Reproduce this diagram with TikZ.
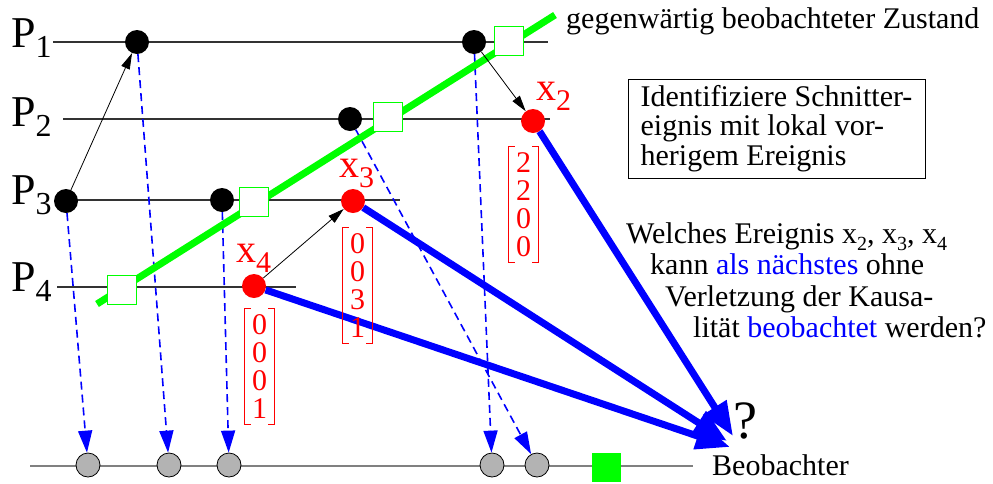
\documentclass[tikz,border=0pt]{standalone}
\usepackage{fontspec}
\setmainfont{Liberation Serif}
\usetikzlibrary{arrows.meta, positioning}
\definecolor{cutgreen}{HTML}{00FF00}
\definecolor{obsgray}{HTML}{B3B3B3}
\newcommand\lowered[3]{\raisebox{-#1pt}{\fontsize{#2}{#2}\selectfont #3}}
\newcommand\vecbrackets[1]{%
  \draw[red, line width=0.8pt]
    ([xshift=6pt]#1.north west) -- (#1.north west) -- (#1.south west) -- ([xshift=6pt]#1.south west)
    ([xshift=-6pt]#1.north east) -- (#1.north east) -- (#1.south east) -- ([xshift=-6pt]#1.south east);}
\tikzset{
  event/.style={circle, fill=black, inner sep=0pt, minimum size=24pt},
  redevent/.style={event, fill=red},
  obsdot/.style={circle, draw=black, line width=0.8pt, fill=obsgray, inner sep=0pt, minimum size=24pt},
  cutmark/.style={draw=cutgreen, line width=1.6pt, fill=white, inner sep=0pt, minimum size=29pt},
  seenmark/.style={fill=cutgreen, inner sep=0pt, minimum size=29pt},
  procline/.style={black!80, line width=1.3pt},
  obsline/.style={black!50, line width=2pt},
  cutline/.style={cutgreen, line width=7pt},
  msg/.style={-{Triangle[length=16pt,width=9pt]}, line width=0.8pt},
  observe/.style={blue, line width=1.6pt, dash pattern=on 8pt off 5pt, -{Triangle[length=22pt,width=14pt]}},
  report/.style={blue, line width=7pt, -{Triangle[length=34pt,width=26pt]}},
  proclabel/.style={anchor=base west, inner sep=0pt, font=\fontsize{44}{44}\selectfont},
  evlabel/.style={anchor=base west, inner sep=0pt, text=red, font=\fontsize{40}{40}\selectfont},
  vec/.style={text=red, align=center, inner sep=0pt, minimum width=29pt, minimum height=116pt, font=\fontsize{30}{28}\selectfont},
  txt/.style={anchor=base west, inner sep=0pt, font=\fontsize{30}{30}\selectfont},
  hintbox/.style={draw, line width=1pt, align=left, minimum width=297pt, minimum height=99pt, inner xsep=9pt, font=\fontsize{30}{29.5}\selectfont},
}

\begin{document}
\begin{tikzpicture}[x=1pt, y=-1pt]
    \useasboundingbox (0,0) rectangle (993,483);

    \draw[procline] (53,42) -- (548,42);
    \draw[procline] (63,119) -- (550,119);
    \draw[procline] (66,200) -- (400,200);
    \draw[procline] (57,287) -- (296,287);
    \draw[obsline] (30,466) -- (693,466);

    \node[proclabel] (p1) at (11,47) {P\lowered{10}{32}{1}};
    \node[proclabel] (p2) at (11,126) {P\lowered{10}{32}{2}};
    \node[proclabel] (p3) at (11,204) {P\lowered{10}{32}{3}};
    \node[proclabel] (p4) at (11,291) {P\lowered{10}{32}{4}};

    \node[event] (e11) at (137,42) {};
    \node[event] (e12) at (474,42) {};
    \node[event] (e21) at (350,119) {};
    \node[redevent] (x2) at (533,121) {};
    \node[event] (e31) at (66,201) {};
    \node[event] (e32) at (222,200) {};
    \node[redevent] (x3) at (353,201) {};
    \node[redevent] (x4) at (254,286) {};

    \node[obsdot] (o1) at (88,465) {};
    \node[obsdot] (o2) at (169,465) {};
    \node[obsdot] (o3) at (229,465) {};
    \node[obsdot] (o4) at (492,465) {};
    \node[obsdot] (o5) at (537,465) {};

    \draw[observe] (e31) -- (o1);
    \draw[observe] (e11) -- (o2);
    \draw[observe] (e32) -- (o3);
    \draw[observe] (e12) -- (o4);
    \draw[observe] (e21) -- (o5);

    \coordinate (c0) at (97,304);
    \coordinate (c1) at (555,15);
    \draw[cutline] (c0) -- (c1);
    \node[cutmark] (s4) at (122,290) {};
    \node[cutmark] (s3) at (254,202) {};
    \node[cutmark] (s2) at (388,117) {};
    \node[cutmark] (s1) at (509,41) {};
    \node[seenmark] (seen) at (606,467) {};
    \node[txt] (cutlabel) at (566,28) {gegenwärtig beobachteter Zustand};

    \coordinate (t2) at (733,436);
    \coordinate (t3) at (727,441);
    \coordinate (t4) at (730,447);
    \draw[report] (x2) -- (t2);
    \draw[report] (x3) -- (t3);
    \draw[report] (x4) -- (t4);

    \draw[msg] (e31) -- (e11);
    \draw[msg] (e12) -- (x2);
    \draw[msg] (x4) -- (x3);

    \node[evlabel] (l2) at (536,100) {x\lowered{10}{30}{2}};
    \node[evlabel] (l3) at (339,177) {x\lowered{10}{30}{3}};
    \node[evlabel] (l4) at (236,262) {x\lowered{10}{30}{4}};

    \node[vec, below=13pt of x2, xshift=-9.5pt] (v2) {2\\2\\0\\0};
    \node[vec, below=14pt of x3, xshift=4.5pt] (v3) {0\\0\\3\\1};
    \node[vec, below=10pt of x4, xshift=5.5pt] (v4) {0\\0\\0\\1};
    \vecbrackets{v2}
    \vecbrackets{v3}
    \vecbrackets{v4}

    \node[hintbox] (hint) at (776.5,128.5) {Identifiziere Schnitter-\\eignis mit lokal vor-\\herigem Ereignis};

    \node[txt] (q1) at (626,243) {Welches Ereignis x\lowered{7}{20}{2}, x\lowered{7}{20}{3}, x\lowered{7}{20}{4}};
    \node[txt] (q2) at (650,274) {kann \textcolor{blue}{als nächstes} ohne};
    \node[txt] (q3) at (665,306) {Verletzung der Kausa-};
    \node[txt] (q4) at (693,337) {lität \textcolor{blue}{beobachtet} werden?};

    \node[txt, font=\fontsize{54}{54}\selectfont] (ask) at (733,438) {?};
    \node[txt] (obs) at (712,475) {Beobachter};
\end{tikzpicture}
\end{document}
